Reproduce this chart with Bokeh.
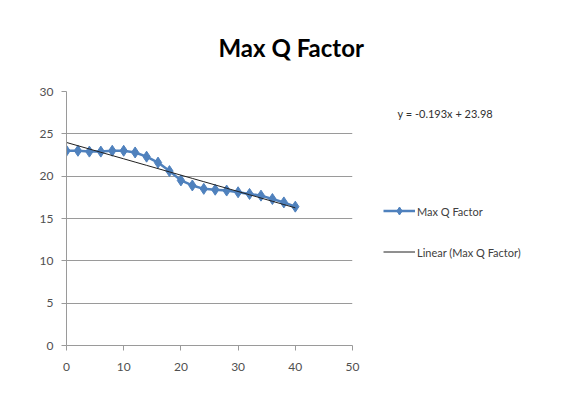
from bokeh.plotting import figure
from bokeh.models import Label, Legend, LegendItem, Range1d, SingleIntervalTicker, Title
from bokeh.embed import file_html
from bokeh.resources import INLINE
import numpy as np

title_text = "Max Q Factor"
series_name = "Max Q Factor"
trend_name = "Linear (Max Q Factor)"
x_vals = [0, 2, 4, 6, 8, 10, 12, 14, 16, 18, 20, 22, 24, 26, 28, 30, 32, 34, 36, 38, 40]
q_vals = [23.0, 23.0, 22.9, 22.9, 23.0, 23.0, 22.8, 22.3, 21.6, 20.6, 19.5,
          18.9, 18.5, 18.4, 18.3, 18.1, 17.9, 17.7, 17.3, 16.9, 16.4]
trend_slope = -0.193
trend_intercept = 23.98
equation_text = "y = -0.193x + 23.98"

FONT = "Lato"
W, H = 573, 408
p = figure(frame_width=286, frame_height=254, output_backend="svg", toolbar_location=None,
           x_range=Range1d(0, 50), y_range=Range1d(0, 30),
           min_border_left=66, min_border_right=W - 352,
           min_border_top=91, min_border_bottom=H - 345)
p.background_fill_color = "white"
p.border_fill_color = "white"
p.outline_line_color = None

p.title = Title(text=title_text, align="left", offset=152, text_font=FONT,
                text_font_size="24px", text_font_style="bold", text_color="#000000",
                standoff=33)

p.xaxis.ticker = SingleIntervalTicker(interval=10)
p.yaxis.ticker = SingleIntervalTicker(interval=5)
for ax in (p.xaxis[0], p.yaxis[0]):
    ax.axis_line_color = "#9a9a9a"
    ax.major_tick_line_color = "#9a9a9a"
    ax.minor_tick_line_color = None
    ax.major_tick_out = 5
    ax.major_tick_in = 0
    ax.major_label_text_font = FONT
    ax.major_label_text_font_size = "12px"
    ax.major_label_text_color = "#505050"
p.xaxis.major_label_standoff = 12
p.yaxis.major_label_standoff = 8
p.xgrid.grid_line_color = None
p.ygrid.grid_line_color = "#9a9a9a"
p.ygrid.grid_line_width = 1

xs = np.array(x_vals, dtype=float)
trend_y = trend_slope * xs + trend_intercept

r1 = p.line(x_vals, q_vals, line_color="#4F81BD", line_width=2.5)
r2 = p.scatter(x_vals, q_vals, marker="diamond", size=11, fill_color="#4F81BD",
               line_color="#4F81BD")
r3 = p.line(xs, trend_y, line_color="#202020", line_width=1)

p.add_layout(Label(x=331, y=-22, x_units="screen", y_units="screen", text=equation_text,
                   text_font=FONT, text_font_size="11px", text_color="#303030",
                   text_align="left", text_baseline="middle"), "above")

legend = Legend(items=[LegendItem(label=series_name, renderers=[r1, r2]),
                       LegendItem(label=trend_name, renderers=[r3])],
                location="left", orientation="vertical",
                title=" ", title_text_font_size="11px", title_standoff=14,
                label_text_font=FONT, label_text_font_size="11px",
                label_text_color="#404040", glyph_width=32, glyph_height=20,
                label_height=20, spacing=21, padding=0, margin=31,
                label_standoff=2, border_line_color=None,
                background_fill_alpha=0)
p.add_layout(legend, "right")

open("out.html", "w").write(file_html(p, INLINE))
